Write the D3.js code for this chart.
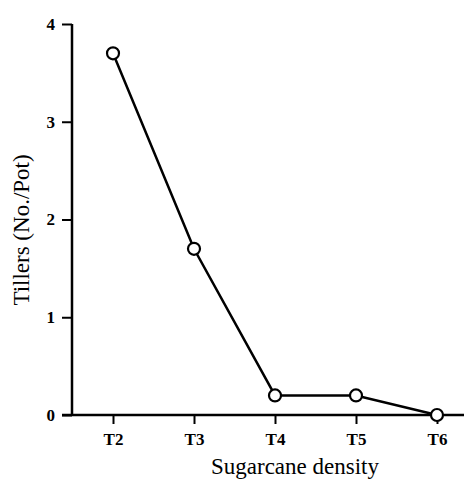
<!DOCTYPE html>
<html>
<head>
<meta charset="utf-8">
<script src="https://cdn.jsdelivr.net/npm/d3@7"></script>
<style>
  body { margin: 0; background: #fff; }
  svg text { font-family: "Liberation Serif", "DejaVu Serif", serif; fill: #000; }
</style>
</head>
<body>
<svg width="469" height="487"></svg>
<script>
// data
var categories = ['T2', 'T3', 'T4', 'T5', 'T6'];
var tillers = [3.7, 1.7, 0.2, 0.2, 0.0];
var yTicks = [0, 1, 2, 3, 4];

var svg = d3.select('svg');

var x = d3.scalePoint().domain(categories).range([113, 437]);
var y = d3.scaleLinear().domain([0, 4]).range([415, 24]);

var points = categories.map(function (c, i) { return { cat: c, val: tillers[i] }; });

// y axis
var yAxis = svg.append('g')
    .attr('transform', 'translate(72,0)')
    .call(d3.axisLeft(y).tickValues(yTicks).tickFormat(d3.format('d')).tickSize(10).tickPadding(7));
yAxis.select('.domain').attr('d', 'M0,' + y(4) + 'V' + y(0));

// x axis
var xAxis = svg.append('g')
    .attr('transform', 'translate(0,415)')
    .call(d3.axisBottom(x).tickSize(9).tickPadding(9));
xAxis.select('.domain').attr('d', 'M62,0H464');

svg.selectAll('.domain').attr('stroke', '#000').attr('stroke-width', 2.5);
svg.selectAll('.tick line').attr('stroke', '#000').attr('stroke-width', 2);
svg.selectAll('.tick text')
    .style('font-size', '17px')
    .style('font-weight', 'bold');

// line
var line = d3.line()
    .x(function (d) { return x(d.cat); })
    .y(function (d) { return y(d.val); });

svg.append('path')
    .datum(points)
    .attr('fill', 'none')
    .attr('stroke', '#000')
    .attr('stroke-width', 2.5)
    .attr('d', line);

svg.append('g')
    .selectAll('circle')
    .data(points)
    .enter()
    .append('circle')
    .attr('cx', function (d) { return x(d.cat); })
    .attr('cy', function (d) { return y(d.val); })
    .attr('r', 6)
    .attr('fill', '#fff')
    .attr('stroke', '#000')
    .attr('stroke-width', 2.2);

// titles
svg.append('text')
    .attr('x', 295)
    .attr('y', 474)
    .attr('text-anchor', 'middle')
    .style('font-size', '23px')
    .text('Sugarcane density');

svg.append('text')
    .attr('transform', 'translate(29,230) rotate(-90)')
    .attr('text-anchor', 'middle')
    .style('font-size', '23px')
    .text('Tillers (No./Pot)');
</script>
</body>
</html>
